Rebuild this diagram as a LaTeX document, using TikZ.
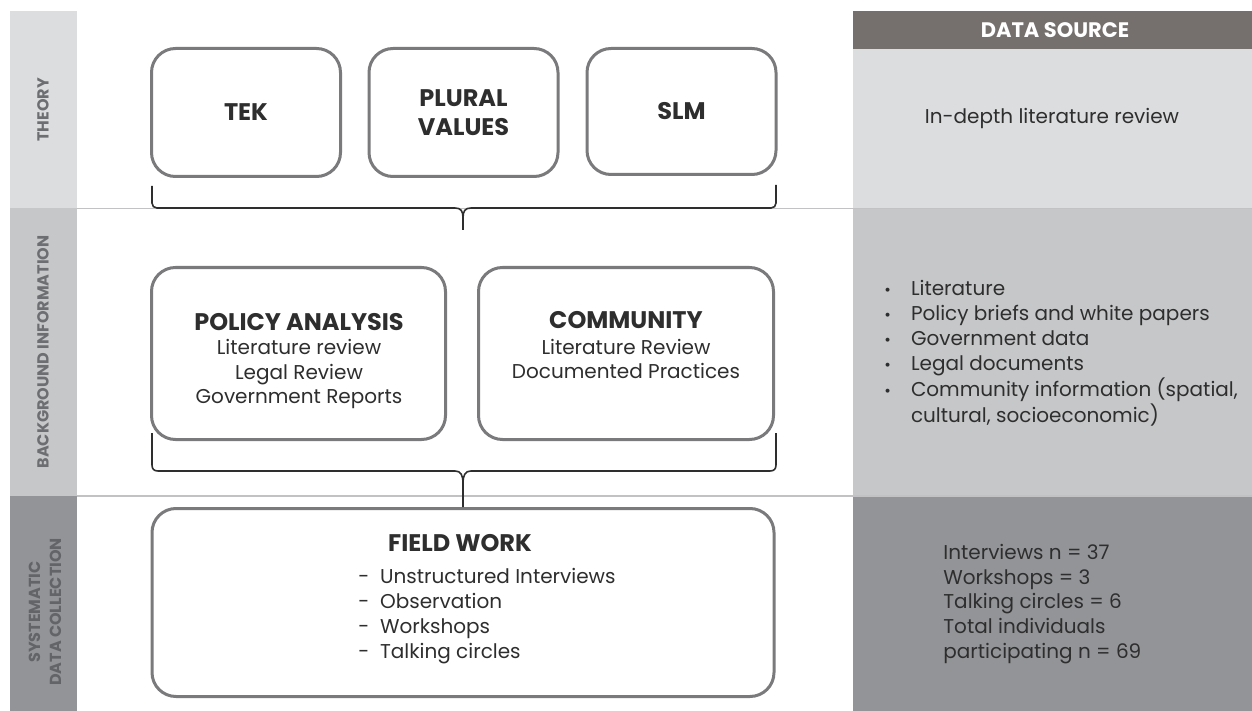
\documentclass[tikz,border=0pt]{standalone}
\usepackage{fontspec}
\setmainfont{Poppins}
\usetikzlibrary{calc}
\definecolor{bandone}{HTML}{DCDDDF}
\definecolor{bandtwo}{HTML}{C6C7C9}
\definecolor{bandthree}{HTML}{939497}
\definecolor{headgray}{HTML}{75706E}
\definecolor{boxgray}{HTML}{7A7A7D}
\definecolor{rulegray}{HTML}{C2C2C4}
\definecolor{textdark}{HTML}{2E2E2E}
\definecolor{labelgray}{HTML}{6D6E71}
\definecolor{labeldark}{HTML}{636467}
\tikzset{
  stage/.style={draw=boxgray, line width=1.5pt, rounded corners=12pt, fill=white, inner sep=0pt, align=center, text=textdark, font=\fontsize{12}{14.5}\selectfont\bfseries},
  headtext/.style={font=\fontsize{12}{14.5}\selectfont\bfseries, text=textdark},
  bodytext/.style={font=\fontsize{10}{12.4}\selectfont, text=textdark},
  sidelabel/.style={rotate=90, font=\fontsize{8}{10.5}\selectfont\bfseries, align=center, text=labelgray},
  brace/.style={draw=textdark, line width=0.8pt},
  ruleline/.style={draw=rulegray, line width=0.8pt},
}
\begin{document}
\begin{tikzpicture}[x=0.5pt,y=0.5pt,yscale=-1,xscale=1]
\useasboundingbox (0,0) rectangle (1252,711);

%Shape: Rectangle [side bands]
\fill[bandone] (10,11) rectangle (77,208);
\fill[bandtwo] (10,208) rectangle (77,496);
\fill[bandthree] (10,496) rectangle (77,711);
%Shape: Rectangle [data source panel]
\fill[headgray] (853,11) rectangle (1252,49);
\fill[bandone] (853,49) rectangle (1252,208);
\fill[bandtwo] (853,208) rectangle (1252,496);
\fill[bandthree] (853,496) rectangle (1252,711);
%Straight Lines
\draw[ruleline] (77,208.5) -- (1252,208.5);
\draw[ruleline] (77,496) -- (1252,496);

%Side labels
\node[sidelabel] (lbltheory) at (43,110) {THEORY};
\node[sidelabel] (lblback) at (43,352) {BACKGROUND INFORMATION};
\node[sidelabel, text=labeldark] (lblsys) at (45,612) {SYSTEMATIC\\DATA COLLECTION};

%Shape: Rounded Rect [theory]
\node[stage, minimum width=94.5pt, minimum height=64pt] (tek) at (246,112.5) {TEK};
\node[stage, minimum width=94.5pt, minimum height=64pt] (plural) at (463.5,112.5) {PLURAL\\VALUES};
\node[stage, minimum width=94.5pt, minimum height=63pt] (slm) at (681.5,111.5) {SLM};

%Shape: Rounded Rect [background]
\node[stage, minimum width=147pt, minimum height=86pt] (policy) at (298.5,353.5) {};
\node[stage, minimum width=147.5pt, minimum height=86pt] (community) at (626,353.5) {};
\node[headtext] (policyhead) at (299,322) {POLICY ANALYSIS};
\node[bodytext, align=center] (policytxt) at (299,374) {Literature review\\Legal Review\\Government Reports};
\node[headtext] (communityhead) at (626,320) {COMMUNITY};
\node[bodytext, align=center] (communitytxt) at (626,359) {Literature Review\\Documented Practices};

%Shape: Rounded Rect [field work]
\node[stage, minimum width=311pt, minimum height=94pt] (field) at (463,602.5) {};
\node[headtext] (fieldhead) at (460,543) {FIELD WORK};
\node[bodytext, align=left, anchor=west, inner xsep=0pt] (fieldtxt) at (358,616) {-\ \ Unstructured Interviews\\-\ \ Observation\\-\ \ Workshops\\-\ \ Talking circles};

%Curve Lines [braces]
\coordinate (tiptop) at (463,230);
\draw[brace] (152,186) -- (152,203) .. controls (152,206) and (154,208) .. (157,208) -- (455,208) .. controls (461,208) and (463,211) .. (463,218) -- (tiptop);
\draw[brace] (776,185) -- (776,203) .. controls (776,206) and (774,208) .. (771,208) -- (471,208) .. controls (465,208) and (463,211) .. (463,218);
\draw[brace] (152,433) -- (152,465) .. controls (152,469) and (154,471) .. (158,471) -- (455,471) .. controls (461,471) and (463,475) .. (463,484) -- (field.north);
\draw[brace] (776,433) -- (776,465) .. controls (776,469) and (774,471) .. (770,471) -- (471,471) .. controls (465,471) and (463,475) .. (463,484);

%Data source texts
\node[font=\fontsize{10.5}{12}\selectfont\bfseries, text=white] (srchead) at (1055,30) {DATA SOURCE};
\node[bodytext] (srctheory) at (1052,118) {In-depth literature review};
\node[bodytext, anchor=west, inner sep=0pt] (srcback) at (884,354) {\begin{tabular}{@{}l@{\hspace{10pt}}l@{}}
{\footnotesize\textbullet} & Literature\\
{\footnotesize\textbullet} & Policy briefs and white papers\\
{\footnotesize\textbullet} & Government data\\
{\footnotesize\textbullet} & Legal documents\\
{\footnotesize\textbullet} & Community information (spatial,\\
 & cultural, socioeconomic)
\end{tabular}};
\node[bodytext, align=left, anchor=west, inner xsep=0pt] (srcsys) at (943,604) {Interviews n = 37\\Workshops = 3\\Talking circles = 6\\Total individuals\\participating n = 69};

\end{tikzpicture}
\end{document}
